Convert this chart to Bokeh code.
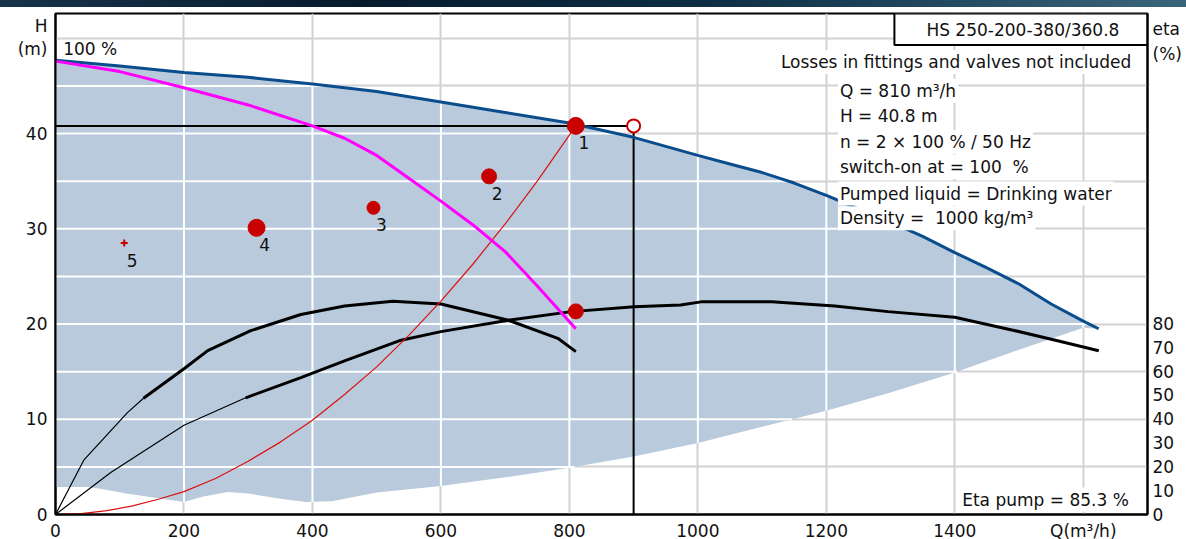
import numpy as np
from bokeh.plotting import figure
from bokeh.models import Range1d, LinearAxis, FixedTicker, Label, ColumnDataSource, Div
from bokeh.layouts import column
from bokeh.core.properties import value
from bokeh.embed import file_html
from bokeh.resources import INLINE

# ---------------- data ----------------
# Q in m3/h, H in m, eta in %
max_q = [0, 100, 200, 300, 400, 500, 600, 700, 800, 900, 1000, 1050, 1100, 1150, 1200, 1250, 1300, 1350, 1400, 1450, 1500, 1550, 1600, 1624]
max_h = [47.7, 47.1, 46.4, 45.9, 45.2, 44.4, 43.3, 42.2, 41.1, 39.6, 37.7, 36.8, 35.9, 34.8, 33.5, 32.1, 30.7, 29.2, 27.5, 25.9, 24.2, 22.1, 20.3, 19.5]

one_q = [0, 100, 200, 300, 400, 450, 500, 550, 600, 650, 700, 750, 810]
one_h = [47.6, 46.5, 44.8, 43.0, 40.8, 39.5, 37.7, 35.3, 32.9, 30.4, 27.6, 24.0, 19.5]

low_q = [0, 50, 70, 110, 150, 200, 230, 268, 300, 350, 390, 430, 500, 600, 700, 800, 900, 1000, 1100, 1200, 1300, 1400, 1500, 1600, 1624]
low_h = [2.9, 2.9, 2.7, 2.2, 1.8, 1.3, 1.9, 2.35, 2.2, 1.65, 1.3, 1.4, 2.3, 3.0, 3.9, 4.9, 6.1, 7.5, 9.2, 10.9, 12.8, 14.9, 17.3, 19.6, 19.5]

sys_q = [0, 40, 80, 120, 160, 200, 250, 300, 350, 400, 450, 500, 550, 600, 650, 700, 750, 810]
sys_h = [0, 0.1, 0.4, 0.9, 1.6, 2.4, 3.8, 5.6, 7.6, 9.9, 12.6, 15.5, 18.8, 22.4, 26.3, 30.5, 35.0, 40.8]

eta1_q = [0, 44, 112, 137, 200, 237, 304, 382, 450, 525, 600, 705, 782, 810]
eta1_v = [0, 22.8, 42.8, 48.8, 61.2, 68.8, 77.2, 84.0, 87.6, 89.6, 88.4, 81.6, 74.0, 68.4]

eta2_q = [0, 86, 200, 296, 382, 450, 538, 600, 705, 803, 901, 973, 1005, 1115, 1213, 1296, 1400, 1494, 1560, 1624]
eta2_v = [0, 17.6, 37.5, 49.0, 57.5, 64.5, 73.2, 76.8, 81.6, 85.2, 87.2, 88.0, 89.3, 89.3, 87.6, 85.2, 82.8, 77.2, 73.0, 68.8]

pts_q = [810, 675, 495, 313]
pts_h = [40.8, 35.5, 32.2, 30.1]
pts_lbl = ["1", "2", "3", "4"]
pt5_q = [107]
pt5_h = [28.5]
pt5_lbl = ["5"]

duty_q = 810
duty_h = 40.8
duty_eta = 85.3
limit_q = 900

x_ticks = [0, 200, 400, 600, 800, 1000, 1200, 1400, 1600]
h_ticks = [0, 10, 20, 30, 40]
eta_ticks = [0, 10, 20, 30, 40, 50, 60, 70, 80]
grid_h = [5, 10, 15, 20, 25, 30, 35, 40, 45, 50]
grid_q = [200, 400, 600, 800, 1000, 1200, 1400, 1600]

title_text = "HS 250-200-380/360.8"
info_head = "Losses in fittings and valves not included"
info_lines = [
    f"Q = {duty_q} m\u00b3/h",
    f"H = {duty_h} m",
    "n = 2 \u00d7 100 % / 50 Hz",
    "switch-on at = 100\u00a0 %",
    "Pumped liquid = Drinking water",
    "Density =\u00a0 1000 kg/m\u00b3",
]
eta_text = f"Eta pump = {duty_eta} %"

# ---------------- styling ----------------
FONT = "DejaVu Sans"
FS = "17px"
FILL = "#b8cadb"
BLUE = "#0a4d8c"
MAG = "#ff00ff"
RED = "#c80000"
GRID_GRAY = "#d2d2d2"
H_TOP = 52.6
ETA_TOP = H_TOP * 4

# unit labels placed as extra tick labels at the top of the axes
H_UNIT_POS = {51.3: "H", 48.9: "(m)"}
ETA_UNIT_POS = {204.0: "eta", 193.6: "(%)"}

banner = Div(text="", width=1186, height=7, margin=0,
             styles={"background": "linear-gradient(90deg, #17334a 0%, #071b2d 30%, #0e2f45 60%, #3a6579 100%)"})

p = figure(width=1186, height=536, x_range=Range1d(0, 1700), y_range=Range1d(0, H_TOP),
           output_backend="svg", toolbar_location=None, margin=0,
           min_border_left=55, min_border_right=39, min_border_top=6, min_border_bottom=29)
p.extra_y_ranges = {"eta": Range1d(0, ETA_TOP)}
p.outline_line_color = "black"
p.outline_line_width = 2
p.background_fill_color = "white"

# axes
p.xaxis.ticker = FixedTicker(ticks=x_ticks)
p.xaxis.major_label_overrides = {1600: "Q(m\u00b3/h)"}
p.yaxis.ticker = FixedTicker(ticks=h_ticks + list(H_UNIT_POS.keys()))
p.yaxis.major_label_overrides = dict(H_UNIT_POS)
ax_r = LinearAxis(y_range_name="eta", ticker=FixedTicker(ticks=eta_ticks + list(ETA_UNIT_POS.keys())),
                  major_label_overrides=dict(ETA_UNIT_POS))
p.add_layout(ax_r, "right")
for ax in [p.xaxis[0], p.yaxis[0], ax_r]:
    ax.axis_line_color = "black"
    ax.axis_line_width = 2
    ax.major_tick_out = 0
    ax.major_tick_in = 0
    ax.minor_tick_out = 0
    ax.minor_tick_in = 0
    ax.major_label_text_font = FONT
    ax.major_label_text_font_size = FS
    ax.major_label_text_color = "#111111"
p.xaxis[0].major_label_standoff = 6
p.yaxis[0].major_label_standoff = 8
ax_r.major_label_standoff = 5

# grids (gray, under everything)
p.xgrid.ticker = FixedTicker(ticks=grid_q)
p.ygrid.ticker = FixedTicker(ticks=grid_h)
p.grid.grid_line_color = GRID_GRAY
p.grid.grid_line_width = 2

# operating range area
p.patch(max_q + low_q[::-1], max_h + low_h[::-1], fill_color=FILL, line_color=None)

# white grid lines inside the area
qs = np.linspace(0, max_q[-1], 4000)
up = np.interp(qs, max_q, max_h)
lo = np.interp(qs, low_q, low_h)
for h in grid_h:
    inside = (lo < h) & (up > h)
    p.line(qs, np.where(inside, h, np.nan), line_color="white", line_width=2)
gq = np.array(grid_q, dtype=float)
p.segment(x0=gq, y0=np.interp(gq, low_q, low_h), x1=gq, y1=np.interp(gq, max_q, max_h),
          line_color="white", line_width=2)

# duty lines
p.line([0, limit_q], [duty_h, duty_h], line_color="black", line_width=2)
p.line([limit_q, limit_q], [duty_h, 0], line_color="black", line_width=2)

# efficiency curves
e1q = np.array(eta1_q); e1v = np.array(eta1_v)
e2q = np.array(eta2_q); e2v = np.array(eta2_v)
p.line(e1q, e1v, y_range_name="eta", line_color="black", line_width=1.2)
p.line(e1q[e1q >= 137], e1v[e1q >= 137], y_range_name="eta", line_color="black", line_width=3)
p.line(e2q, e2v, y_range_name="eta", line_color="black", line_width=1.2)
p.line(e2q[e2q >= 296], e2v[e2q >= 296], y_range_name="eta", line_color="black", line_width=3)

# system curve
p.line(sys_q, sys_h, line_color="#dd1111", line_width=1.2)

# pump curves
p.line(max_q, max_h, line_color=BLUE, line_width=3)
p.line(one_q, one_h, line_color=MAG, line_width=3)

# points
p.scatter(pts_q, pts_h, size=[17, 15, 13, 17], marker="circle", fill_color=RED, line_color=RED)
p.scatter(pt5_q, pt5_h, size=7, marker="cross", line_color=RED, line_width=2)
p.scatter([duty_q], [duty_eta], y_range_name="eta", size=15, marker="circle", fill_color=RED, line_color=RED)
p.scatter([limit_q], [duty_h], size=13, marker="circle", fill_color="white", line_color=RED, line_width=2)

src = ColumnDataSource(dict(x=pts_q + pt5_q, y=pts_h + pt5_h, t=pts_lbl + pt5_lbl))
p.text("x", "y", text="t", source=src, x_offset=8, y_offset=17, text_align="center",
       text_baseline="middle", text_font=value(FONT), text_font_size=FS, text_color="#111111")

# title box
p.quad(left=[1306], right=[1700], bottom=[49.3], top=[H_TOP], fill_color="white",
       line_color="black", line_width=2)


def lab(x, y, text, align="left", bg=False):
    kw = dict(x=x, y=y, text=text, text_font=FONT, text_font_size=FS, text_align=align,
              text_baseline="middle", text_color="#111111")
    if bg:
        kw.update(background_fill_color="white", padding=2)
    p.add_layout(Label(**kw))


lab(1506, 50.85, title_text, align="center")
lab(1678, 47.5, info_head, align="right", bg=True)
for yy, t in zip([44.5, 41.8, 39.1, 36.5, 33.7, 31.1], info_lines):
    lab(1218, yy, t, bg=True)
lab(1674, 1.57, eta_text, align="right", bg=True)
lab(12, 48.9, "100 %")

layout = column(banner, p, spacing=0)
open("out.html", "w").write(file_html(layout, INLINE))
